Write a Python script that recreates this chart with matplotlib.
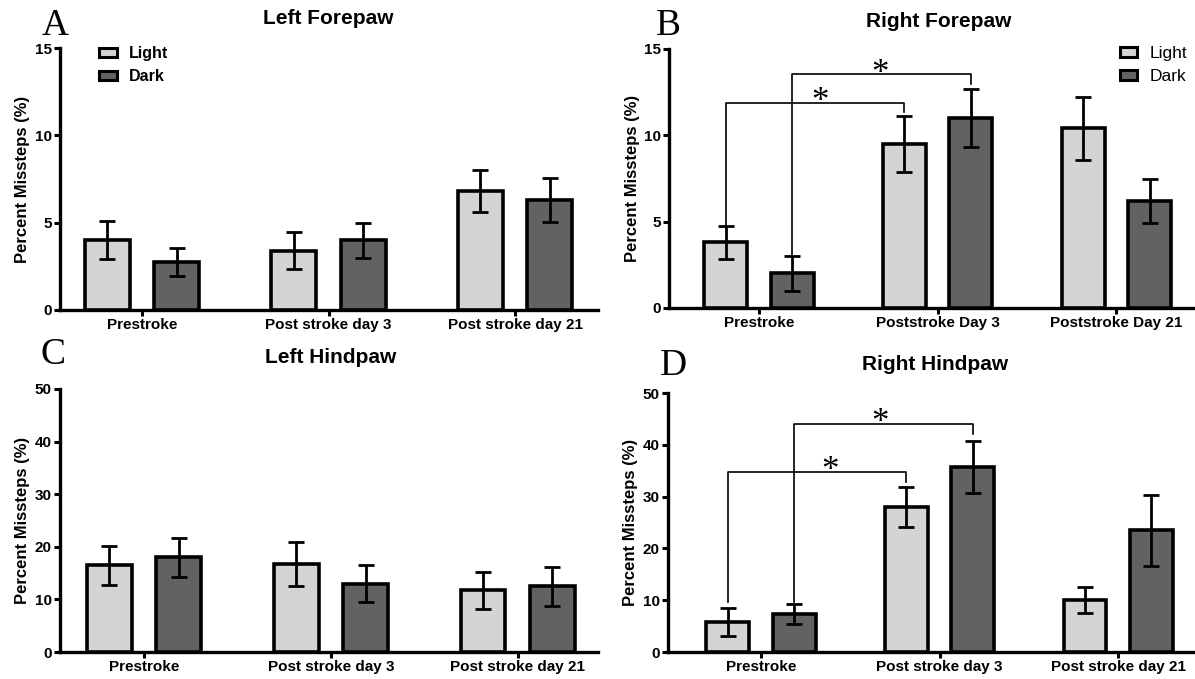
import matplotlib
matplotlib.use("Agg")
import matplotlib.pyplot as plt
from matplotlib.patches import Patch
import numpy as np

# ---- data -------------------------------------------------------------
groups_A = ["Prestroke", "Post stroke day 3", "Post stroke day 21"]
groups_B = ["Prestroke", "Poststroke Day 3", "Poststroke Day 21"]
groups_C = ["Prestroke", "Post stroke day 3", "Post stroke day 21"]
groups_D = ["Prestroke", "Post stroke day 3", "Post stroke day 21"]

light_A = [4.0, 3.4, 6.8]
light_A_err = [1.1, 1.05, 1.2]
dark_A = [2.75, 4.0, 6.3]
dark_A_err = [0.8, 1.0, 1.25]

light_B = [3.8, 9.5, 10.4]
light_B_err = [0.95, 1.6, 1.8]
dark_B = [2.0, 11.0, 6.2]
dark_B_err = [1.0, 1.7, 1.25]

light_C = [16.5, 16.7, 11.7]
light_C_err = [3.7, 4.2, 3.6]
dark_C = [18.0, 13.0, 12.5]
dark_C_err = [3.7, 3.5, 3.7]

light_D = [5.8, 28.0, 10.0]
light_D_err = [2.7, 3.8, 2.5]
dark_D = [7.3, 35.7, 23.5]
dark_D_err = [1.9, 5.1, 6.9]

# significance brackets: (series, from group, to group, bracket height, left leg end, right leg end)
sig_B = [("light", 0, 1, 11.9, 4.75, 11.35), ("dark", 0, 1, 13.55, 3.0, 12.95)]
sig_D = [("light", 0, 1, 34.75, 9.6, 32.8), ("dark", 0, 1, 44.1, 9.6, 42.1)]

LIGHT = "#d4d4d4"
DARK = "#626262"
SANS = "Liberation Sans"
SERIF = "Liberation Serif"

W, H = 1195, 679
fig = plt.figure(figsize=(W / 100, H / 100), dpi=100)


def fx(px):
    return px / W


def fy(py):
    return 1 - py / H


def make_axes(left, right, top, bottom):
    return fig.add_axes([fx(left), fy(bottom), fx(right) - fx(left), fy(top) - fy(bottom)])


def panel(ax, cats, light, light_err, dark, dark_err, ymax, ystep, xlim, off=0.186, width=0.24):
    x = np.arange(len(cats))
    ekw = dict(elinewidth=2.0, capsize=5.5, capthick=2.0, ecolor="black")
    ax.bar(x - off, light, width, color=LIGHT, edgecolor="black", linewidth=2.6,
           yerr=light_err, error_kw=ekw, zorder=3, label="Light")
    ax.bar(x + off, dark, width, color=DARK, edgecolor="black", linewidth=2.6,
           yerr=dark_err, error_kw=ekw, zorder=3, label="Dark")
    ax.set_xlim(*xlim)
    ax.set_ylim(0, ymax)
    ax.set_yticks(np.arange(0, ymax + 0.01, ystep))
    ax.set_xticks(x)
    ax.set_xticklabels(cats, fontfamily=SANS, fontweight="bold", fontsize=11)
    for lab in ax.get_yticklabels():
        lab.set_fontfamily(SANS)
        lab.set_fontweight("bold")
        lab.set_fontsize(11)
    for s in ["top", "right"]:
        ax.spines[s].set_visible(False)
    for s in ["left", "bottom"]:
        ax.spines[s].set_linewidth(2.4)
    ax.tick_params(axis="both", width=2.2, length=4, pad=2, direction="out")
    ax.set_ylabel("Percent Missteps (%)", fontfamily=SANS, fontweight="bold",
                  fontsize=12, labelpad=3)
    return x, off


def brackets(ax, x, off, sigs):
    for series, g0, g1, yb, y0, y1 in sigs:
        o = -off if series == "light" else off
        xa, xb = x[g0] + o, x[g1] + o
        ax.plot([xa, xa, xb, xb], [y0, yb, yb, y1], color="black", lw=1.2,
                zorder=4, clip_on=False)


axA = make_axes(60, 598, 48, 310)
xA, oA = panel(axA, groups_A, light_A, light_A_err, dark_A, dark_A_err, 15, 5, (-0.44, 2.445))

axB = make_axes(669, 1195, 49, 308)
xB, oB = panel(axB, groups_B, light_B, light_B_err, dark_B, dark_B_err, 15, 5, (-0.503, 2.44))
brackets(axB, xB, oB, sig_B)

axC = make_axes(60, 598, 389, 652)
panel(axC, groups_C, light_C, light_C_err, dark_C, dark_C_err, 50, 10, (-0.45, 2.43))

axD = make_axes(668, 1195, 393, 652)
xD, oD = panel(axD, groups_D, light_D, light_D_err, dark_D, dark_D_err, 50, 10, (-0.52, 2.43))
brackets(axD, xD, oD, sig_D)

# significance stars
star_kw = dict(fontfamily=SERIF, fontsize=25, ha="center", va="center", zorder=5)
axB.text(0.34, 11.9, "*", **star_kw)
axB.text(0.676, 13.55, "*", **star_kw)
axD.text(0.384, 34.8, "*", **star_kw)
axD.text(0.665, 44.2, "*", **star_kw)

# legends
handles = [Patch(facecolor=LIGHT, edgecolor="black", linewidth=2.2, label="Light"),
           Patch(facecolor=DARK, edgecolor="black", linewidth=2.2, label="Dark")]
fig.legend(handles=handles, loc="upper left", bbox_to_anchor=(fx(99), fy(46)),
           frameon=False, borderpad=0, borderaxespad=0, handlelength=1.1,
           handleheight=0.55, handletextpad=0.75, labelspacing=0.5,
           prop=dict(family=SANS, weight="bold", size=11.5))
fig.legend(handles=handles, loc="upper left", bbox_to_anchor=(fx(1120), fy(46)),
           frameon=False, borderpad=0, borderaxespad=0, handlelength=1.0,
           handleheight=0.5, handletextpad=0.7, labelspacing=0.45,
           prop=dict(family=SANS, weight="normal", size=12.5))

# panel titles
title_kw = dict(fontfamily=SANS, fontweight="bold", fontsize=15, ha="center", va="baseline")
fig.text(fx(328), fy(24), "Left Forepaw", **title_kw)
fig.text(fx(939), fy(27), "Right Forepaw", **title_kw)
fig.text(fx(331), fy(363), "Left Hindpaw", **title_kw)
fig.text(fx(935), fy(370), "Right Hindpaw", **title_kw)

# panel letters
letter_kw = dict(fontfamily=SERIF, fontsize=27, ha="center", va="baseline")
fig.text(fx(55), fy(35), "A", **letter_kw)
fig.text(fx(668), fy(35), "B", **letter_kw)
fig.text(fx(53), fy(364), "C", **letter_kw)
fig.text(fx(673), fy(375), "D", **letter_kw)

fig.savefig("out.png", dpi=100)
